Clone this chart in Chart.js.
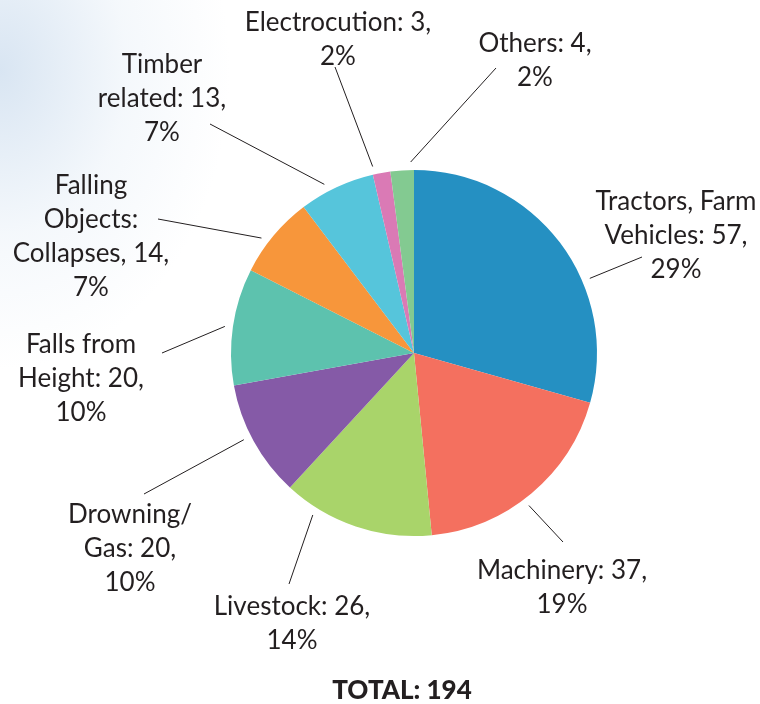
<!DOCTYPE html>
<html>
<head>
<meta charset="utf-8">
<script src="https://cdn.jsdelivr.net/npm/chart.js@4.4.1/dist/chart.umd.min.js"></script>
<style>
  html, body { margin: 0; padding: 0; }
  body {
    width: 760px;
    height: 704px;
    overflow: hidden;
    background:
      radial-gradient(ellipse 230px 300px at 0px 70px, rgba(185,208,232,0.55), rgba(220,232,244,0.3) 55%, rgba(255,255,255,0) 100%),
      #ffffff;
  }
  #wrap { position: relative; width: 760px; height: 704px; }
</style>
</head>
<body>
<div id="wrap"><canvas id="pieChart" width="760" height="704"></canvas></div>
<script>
// slices, clockwise from 12 o'clock
const nameLines = [
  ["Tractors, Farm", "Vehicles"],
  ["Machinery"],
  ["Livestock"],
  ["Drowning/", "Gas"],
  ["Falls from", "Height"],
  ["Falling", "Objects:", "Collapses"],
  ["Timber", "related"],
  ["Electrocution"],
  ["Others"],
];
const nameSeps = [": ", ": ", ": ", ": ", ": ", ", ", ": ", ": ", ": "];
const counts = [57, 37, 26, 20, 20, 14, 13, 3, 4];
const percents = [29, 19, 14, 10, 10, 7, 7, 2, 2];
const sliceColors = [
  "#2590c2", "#f4705f", "#a9d46a", "#855aa7", "#5dc2ae",
  "#f7963b", "#56c5db", "#da7ab5", "#83ca91",
];

// label placement: leader start angle (deg from top, clockwise), leader end, text centre x, first baseline
const labelLayout = [
  { ang: 67, ex: 642, ey: 257, tx: 676, ty: 210 },
  { ang: 143, ex: 563, ey: 542, tx: 562, ty: 579 },
  { ang: 212, ex: 289, ey: 584, tx: 292, ty: 615 },
  { ang: 243, ex: 144, ey: 494, tx: 130, ty: 523 },
  { ang: 278, ex: 162, ey: 353, tx: 81, ty: 353 },
  { ang: 307, ex: 158, ey: 219, tx: 91, ty: 194 },
  { ang: 332, ex: 210, ey: 124, tx: 162, ty: 73 },
  { ang: 347.5, ex: 335, ey: 67, tx: 338, ty: 31 },
  { ang: 359, ex: 496, ey: 68, tx: 535, ty: 52 },
];

const textColor = "#231f20";
const labelFont = "26px Lato";
const lineGap = 34;

const labelPlugin = {
  id: "sliceLabels",
  afterDraw(chart) {
    const ctx = chart.ctx;
    const arc = chart.getDatasetMeta(0).data[0];
    const cx = arc.x, cy = arc.y, r = arc.outerRadius;
    ctx.save();
    ctx.strokeStyle = textColor;
    ctx.lineWidth = 1;
    ctx.fillStyle = textColor;
    ctx.font = labelFont;
    ctx.textAlign = "center";
    ctx.textBaseline = "alphabetic";
    counts.forEach((v, i) => {
      const lay = labelLayout[i];
      const a = (lay.ang * Math.PI) / 180;
      const sx = cx + (r + 8) * Math.sin(a);
      const sy = cy - (r + 8) * Math.cos(a);
      ctx.beginPath();
      ctx.moveTo(sx, sy);
      ctx.lineTo(lay.ex, lay.ey);
      ctx.stroke();
      const lines = nameLines[i].slice();
      lines[lines.length - 1] += nameSeps[i] + v + ",";
      lines.push(percents[i] + "%");
      lines.forEach((t, k) => ctx.fillText(t, lay.tx, lay.ty + k * lineGap));
    });
    // total under the pie
    const total = counts.reduce((s, v) => s + v, 0);
    ctx.font = "900 26px Lato";
    ctx.fillText("TOTAL: " + total, 402, 699);
    ctx.restore();
  },
};

new Chart(document.getElementById("pieChart"), {
  type: "pie",
  data: {
    labels: nameLines.map((l) => l.join(" ")),
    datasets: [
      {
        data: counts,
        backgroundColor: sliceColors,
        borderWidth: 0,
      },
    ],
  },
  options: {
    responsive: false,
    animation: false,
    layout: { padding: { left: 231, right: 163, top: 170, bottom: 168 } },
    plugins: {
      legend: { display: false },
      tooltip: { enabled: false },
    },
  },
  plugins: [labelPlugin],
});
</script>
</body>
</html>
